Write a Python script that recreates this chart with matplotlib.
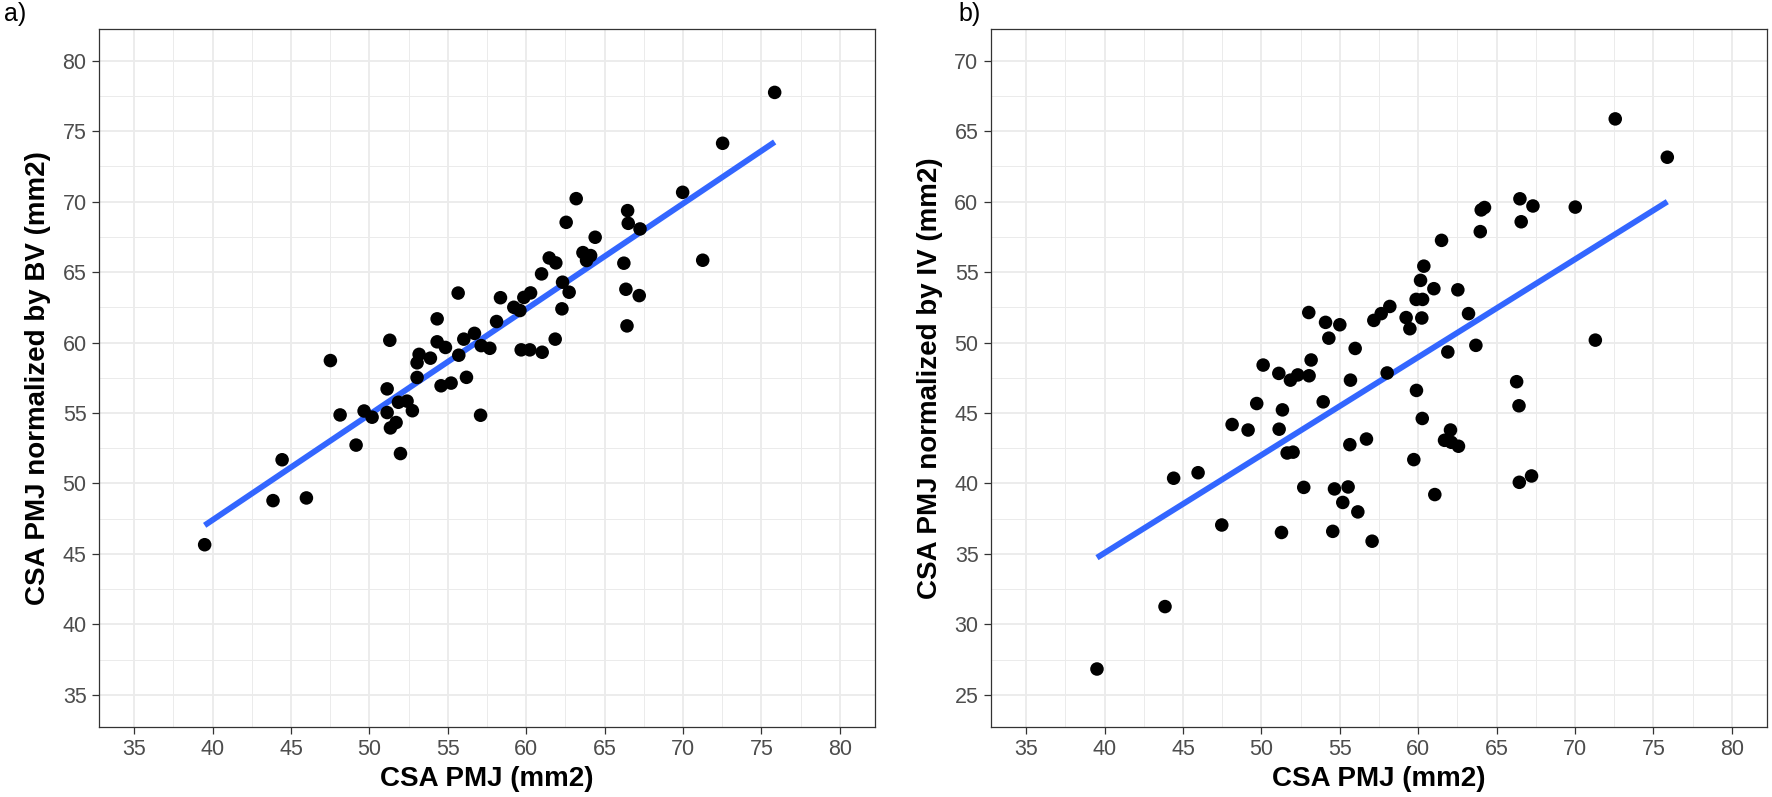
import numpy as np
import matplotlib
matplotlib.use('Agg')
import matplotlib.pyplot as plt

# panel a: CSA PMJ vs CSA normalized by BV
x_a = [39.49, 43.85, 44.43, 45.98, 47.51, 48.13, 49.15, 49.66, 50.17, 51.13,
       51.30, 51.13, 51.34, 51.70, 51.98, 51.85, 52.40, 52.74, 53.04, 53.17,
       53.04, 53.89, 54.32, 54.32, 54.85, 54.57, 55.21, 55.66, 55.70, 56.02,
       56.19, 56.70, 57.09, 57.13, 57.68, 58.11, 58.36, 59.21, 59.60, 59.85,
       60.28, 59.68, 60.23, 61.02, 60.98, 61.47, 61.89, 62.32, 62.74, 62.28,
       61.85, 62.55, 63.19, 63.62, 64.11, 63.85, 64.40, 66.47, 66.51, 67.26,
       66.23, 66.36, 67.21, 66.43, 69.98, 71.26, 72.53, 75.85]
y_a = [45.65, 48.78, 51.68, 48.97, 58.72, 54.86, 52.72, 55.14, 54.70, 56.71,
       60.16, 55.03, 53.94, 54.32, 52.12, 55.76, 55.84, 55.16, 57.52, 59.16,
       58.56, 58.89, 61.68, 60.05, 59.65, 56.93, 57.12, 63.51, 59.10, 60.24,
       57.53, 60.65, 54.84, 59.78, 59.59, 61.49, 63.18, 62.50, 62.27, 63.20,
       63.52, 59.48, 59.48, 59.31, 64.87, 66.00, 65.65, 64.28, 63.57, 62.39,
       60.24, 68.53, 70.21, 66.38, 66.17, 65.82, 67.47, 69.36, 68.46, 68.06,
       65.63, 63.78, 63.33, 61.18, 70.66, 65.84, 74.14, 77.75]

# panel b: CSA PMJ vs CSA normalized by IV
x_b = [39.51, 43.85, 44.40, 45.96, 47.47, 48.13, 49.15, 49.70, 50.11, 51.13,
       51.34, 51.11, 51.28, 51.64, 52.02, 51.85, 52.32, 53.04, 53.17, 53.02,
       52.70, 53.94, 54.09, 54.30, 55.00, 54.66, 54.55, 55.19, 55.53, 55.64,
       55.68, 55.98, 56.70, 56.15, 57.06, 57.17, 57.64, 58.19, 58.02, 72.57,
       75.89, 66.49, 67.32, 70.02, 66.57, 64.23, 64.02, 63.96, 61.49, 60.36,
       60.15, 61.00, 62.53, 59.87, 60.28, 59.23, 59.47, 60.23, 63.21, 63.68,
       61.89, 59.89, 60.26, 66.28, 66.43, 71.30, 59.72, 61.06, 62.06, 61.68,
       62.11, 62.57, 66.45, 67.23]
y_b = [26.83, 31.26, 40.37, 40.76, 37.05, 44.18, 43.79, 45.67, 48.40, 43.85,
       45.22, 47.81, 36.52, 42.16, 42.22, 47.33, 47.70, 47.64, 48.76, 52.13,
       39.72, 45.79, 51.43, 50.31, 51.26, 39.61, 36.60, 38.65, 39.75, 42.75,
       47.33, 49.58, 43.15, 37.98, 35.90, 51.57, 52.05, 52.56, 47.84, 65.87,
       63.15, 60.20, 59.69, 59.61, 58.57, 59.58, 59.41, 57.87, 57.25, 55.42,
       54.41, 53.82, 53.74, 53.06, 53.06, 51.77, 50.98, 51.74, 52.05, 49.80,
       49.33, 46.60, 44.61, 47.22, 45.51, 50.17, 41.69, 39.21, 43.79, 43.06,
       42.92, 42.64, 40.08, 40.53]

x_ticks = [35, 40, 45, 50, 55, 60, 65, 70, 75, 80]
y_ticks_a = [35, 40, 45, 50, 55, 60, 65, 70, 75, 80]
y_ticks_b = [25, 30, 35, 40, 45, 50, 55, 60, 65, 70]

plt.rcParams['font.family'] = ['Liberation Sans', 'DejaVu Sans']

W, H = 1772, 797
fig = plt.figure(figsize=(W / 100, H / 100), dpi=100)


def panel(rect, x, y, yticks, ylabel):
    ax = fig.add_axes(rect)
    lo, hi = yticks[0], yticks[-1]
    ax.set_xlim(35 - 2.25, 80 + 2.25)
    ax.set_ylim(lo - 2.25, hi + 2.25)
    ax.set_xticks(x_ticks)
    ax.set_yticks(yticks)
    ax.set_xticks([t + 2.5 for t in x_ticks[:-1]], minor=True)
    ax.set_yticks([t + 2.5 for t in yticks[:-1]], minor=True)
    ax.grid(which='major', color='#EBEBEB', lw=1.3, zorder=0)
    ax.grid(which='minor', color='#EBEBEB', lw=0.7, zorder=0)
    ax.set_axisbelow(True)
    for s in ax.spines.values():
        s.set_color('#333333')
        s.set_linewidth(0.9)
    ax.tick_params(which='major', length=5, width=0.9, color='#333333',
                   labelsize=15.5, labelcolor='#4D4D4D', pad=4)
    ax.tick_params(which='minor', length=0)

    # linear fit (geom_smooth method = lm, no se)
    k, b = np.polyfit(x, y, 1)
    xs = np.array([min(x), max(x)])
    ax.plot(xs, k * xs + b, color='#3366FF', lw=4.2, solid_capstyle='butt', zorder=2)
    ax.scatter(x, y, s=95, color='black', edgecolors='none', zorder=3)

    ax.set_xlabel('CSA PMJ (mm2)', fontsize=20, fontweight='bold', labelpad=4)
    ax.set_ylabel(ylabel, fontsize=20, fontweight='bold', labelpad=8)
    return ax


def frac(l, t, r, bt):
    return [l / W, 1 - bt / H, (r - l) / W, (bt - t) / H]


ax1 = panel(frac(99, 29, 875, 726.5), x_a, y_a, y_ticks_a,
            'CSA PMJ normalized by BV (mm2)')
ax2 = panel(frac(991, 29, 1767, 726.5), x_b, y_b, y_ticks_b,
            'CSA PMJ normalized by IV (mm2)')

fig.text(4 / W, 1 - 14 / H, 'a)', fontsize=18, va='center', ha='left')
fig.text(958 / W, 1 - 14 / H, 'b)', fontsize=18, va='center', ha='left')

fig.savefig('out.png', dpi=100, facecolor='white')
